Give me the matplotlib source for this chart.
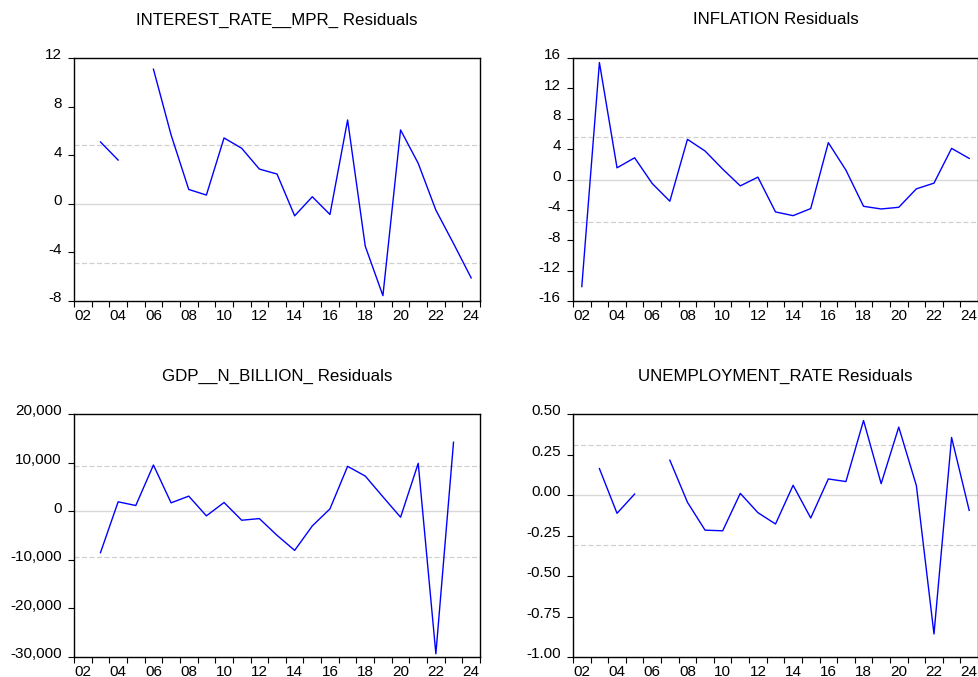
import numpy as np
import matplotlib
matplotlib.use("Agg")
import matplotlib.pyplot as plt
import matplotlib.ticker as mticker
import matplotlib.transforms as mtransforms

plt.rcParams['font.family'] = ['Liberation Sans', 'DejaVu Sans']

years = list(range(2002, 2025))
nan = np.nan

interest_rate = [nan, 5.09, 3.60, nan, 11.08, 5.67, 1.18, 0.72, 5.42, 4.57, 2.86, 2.45,
                 -0.99, 0.58, -0.88, 6.90, -3.49, -7.56, 6.08, 3.33, -0.52, -3.27, -6.10]
inflation = [-14.1, 15.4, 1.54, 2.86, -0.53, -2.86, 5.29, 3.75, 1.37, -0.84, 0.31, -4.27,
             -4.76, -3.83, 4.85, 1.23, -3.53, -3.88, -3.66, -1.23, -0.48, 4.10, 2.78]
gdp = [nan, -8540, 1930, 1170, 9500, 1720, 3100, -960, 1790, -1860, -1520, -4960,
       -8060, -3030, 480, 9230, 7230, 2960, -1240, 9850, -29340, 14190, nan]
unemployment = [nan, 0.163, -0.113, 0.006, nan, 0.215, -0.045, -0.217, -0.221, 0.010,
                -0.109, -0.179, 0.060, -0.142, 0.099, 0.083, 0.460, 0.070, 0.419, 0.058,
                -0.858, 0.355, -0.095]

titles = ["INTEREST_RATE__MPR_ Residuals", "INFLATION Residuals",
          "GDP__N_BILLION_ Residuals", "UNEMPLOYMENT_RATE Residuals"]
series = [interest_rate, inflation, gdp, unemployment]
ylims = [(-8, 12), (-16, 16), (-30000, 20000), (-1.0, 0.5)]
ysteps = [4, 4, 10000, 0.25]
bands = [4.87, 5.57, 9400, 0.31]
fmts = [lambda v, p: f"{v:.0f}", lambda v, p: f"{v:.0f}",
        lambda v, p: f"{v:,.0f}", lambda v, p: f"{v:.2f}"]

W, H = 979, 677
fig = plt.figure(figsize=(W / 100, H / 100), dpi=100)

# axes boxes in pixels: left, top, right, bottom
boxes = [(74, 58, 480, 301), (573, 58, 978, 301),
         (74, 414, 480, 657), (573, 414, 978, 657)]

for i in range(4):
    l, t, r, b = boxes[i]
    ax = fig.add_axes([l / W, 1 - b / H, (r - l) / W, (b - t) / H])
    ax.plot(years, series[i], color='#0000ff', lw=1.0)
    ax.set_xlim(2001.5, 2024.5)
    ax.set_ylim(*ylims[i])
    ax.axhline(0, color='#d8d8d8', lw=1.0, zorder=0)
    ax.axhline(bands[i], color='#d0d0d0', lw=0.9, ls=(0, (4, 2)), zorder=0)
    ax.axhline(-bands[i], color='#d0d0d0', lw=0.9, ls=(0, (4, 2)), zorder=0)

    # x: boundaries ticks, labels centered
    ax.set_xticks(np.arange(2001.5, 2025, 1.0))
    ax.xaxis.set_major_formatter(mticker.NullFormatter())
    lab_years = list(range(2002, 2025, 2))
    ax.set_xticks(lab_years, minor=True)
    ax.set_xticklabels([f"{y % 100:02d}" for y in lab_years], minor=True)
    ax.tick_params(axis='x', which='major', direction='out', length=4.3, width=0.8, color='black')
    ax.tick_params(axis='x', which='minor', length=0, pad=5.5, labelsize=11)

    lo, hi = ylims[i]
    ax.set_yticks(np.arange(lo, hi + ysteps[i] / 2, ysteps[i]))
    ax.yaxis.set_major_formatter(mticker.FuncFormatter(fmts[i]))
    ax.tick_params(axis='y', direction='out', length=4.3, width=0.8, labelsize=11, pad=4.5)
    off = mtransforms.ScaledTranslation(0, 3 / 72, fig.dpi_scale_trans)
    for lab in ax.get_yticklabels():
        lab.set_transform(lab.get_transform() + off)

    for s in ax.spines.values():
        s.set_linewidth(1.0)
        s.set_color('black')

    cx = (l + r) / 2 / W
    ty = 1 - (t - 38) / H
    fig.text(cx, ty, titles[i], ha='center', va='center', fontsize=12.2)

fig.savefig("out.png", dpi=100)
